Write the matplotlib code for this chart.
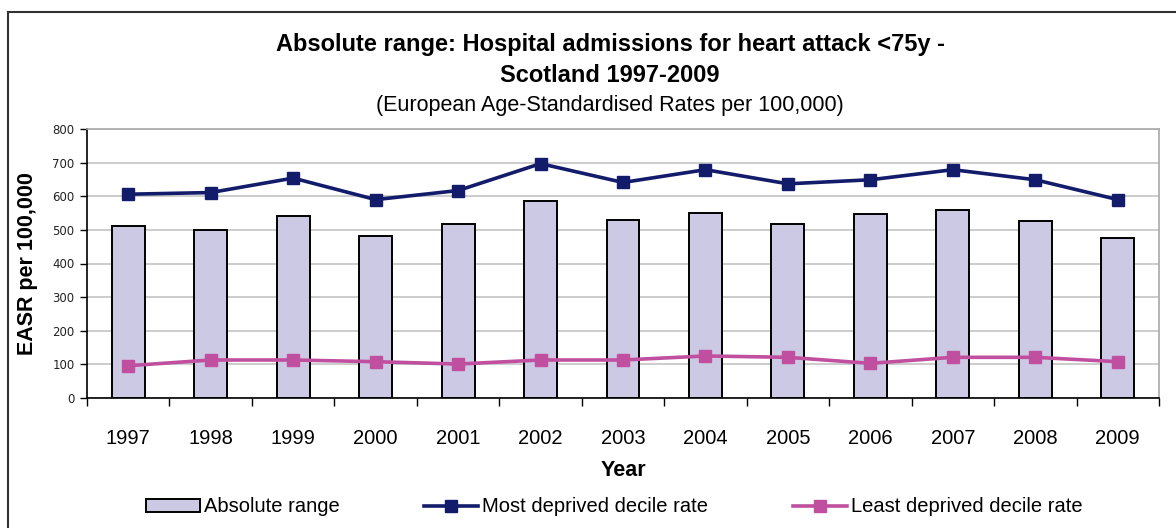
import matplotlib
matplotlib.use("Agg")
import matplotlib.pyplot as plt
from matplotlib.lines import Line2D
from matplotlib.patches import Patch
import numpy as np

years = ["1997", "1998", "1999", "2000", "2001", "2002", "2003",
         "2004", "2005", "2006", "2007", "2008", "2009"]
absolute_range = [511, 499, 541, 481, 516, 587, 528, 551, 516, 546, 558, 527, 475]
most_deprived = [606, 611, 654, 590, 617, 697, 641, 679, 637, 649, 679, 649, 590]
least_deprived = [96, 113, 113, 108, 101, 113, 113, 125, 121, 103, 121, 121, 108]
yticks = [0, 100, 200, 300, 400, 500, 600, 700, 800]

plt.rcParams['font.family'] = ['Liberation Sans', 'DejaVu Sans']

W, H = 1176, 528
fig = plt.figure(figsize=(W / 100, H / 100), dpi=100)
ax = fig.add_axes([87 / W, 1 - 398 / H, (1159 - 87) / W, (398 - 129) / H])

x = np.arange(len(years))
navy = '#131c6a'
pink = '#c04f9f'
barfill = '#ccc9e4'

ax.bar(x, absolute_range, width=0.4, color=barfill, edgecolor='black',
       linewidth=1.4, zorder=2)
ax.plot(x, most_deprived, color=navy, lw=2.6, marker='s', ms=9, zorder=3)
ax.plot(x, least_deprived, color=pink, lw=2.6, marker='s', ms=9, zorder=3)

ax.set_xlim(-0.5, len(years) - 0.5)
ax.set_ylim(0, 800)
ax.set_yticks(yticks)
ax.set_yticklabels([str(v) for v in yticks], fontsize=8.5, family='DejaVu Sans', color='#222222')
ax.yaxis.grid(True, color='#c4c4c4', lw=1.2, zorder=0)
ax.set_axisbelow(True)

ax.set_xticks(x)
ax.set_xticklabels(years, fontsize=14.5)
ax.set_xticks(np.arange(-0.5, len(years)), minor=True)
ax.tick_params(axis='x', which='major', length=0, pad=22)
ax.tick_params(axis='x', which='minor', length=6, width=1, direction='out')
ax.tick_params(axis='y', length=5, width=1, direction='out', pad=4)

for s in ['top', 'right']:
    ax.spines[s].set_color('#a8a8a8')
    ax.spines[s].set_linewidth(1.2)
for s in ['left', 'bottom']:
    ax.spines[s].set_color('black')
    ax.spines[s].set_linewidth(1.2)

ax.set_ylabel('EASR per 100,000', fontsize=15.5, fontweight='bold', labelpad=10)
ax.set_xlabel('Year', fontsize=15.5, fontweight='bold', labelpad=9)

cx = 610 / W
fig.text(cx, 1 - 45 / H,
         'Absolute range: Hospital admissions for heart attack <75y -',
         ha='center', va='center', fontsize=17, fontweight='bold')
fig.text(cx, 1 - 75 / H, 'Scotland 1997-2009',
         ha='center', va='center', fontsize=17, fontweight='bold')
fig.text(cx, 1 - 105 / H,
         '(European Age-Standardised Rates per 100,000)',
         ha='center', va='center', fontsize=15.5)

# outer frame (top and left edges visible)
fig.add_artist(Line2D([8 / W, 1.0], [1 - 12 / H, 1 - 12 / H], color='#333333', lw=1.5,
                      transform=fig.transFigure))
fig.add_artist(Line2D([8 / W, 8 / W], [0.0, 1 - 12 / H], color='#333333', lw=1.5,
                      transform=fig.transFigure))

handles = [
    Patch(facecolor=barfill, edgecolor='black', linewidth=1.4),
    Line2D([], [], color=navy, lw=2.6, marker='s', ms=9),
    Line2D([], [], color=pink, lw=2.6, marker='s', ms=9),
]
labels = ['Absolute range', 'Most deprived decile rate', 'Least deprived decile rate']
fig.legend(handles, labels, loc='center', bbox_to_anchor=(614 / W, 1 - 507 / H), ncol=3,
           frameon=False, fontsize=14.5, handlelength=2.7, handletextpad=0.18,
           columnspacing=4.2, handleheight=0.6)

fig.savefig('out.png', dpi=100)
